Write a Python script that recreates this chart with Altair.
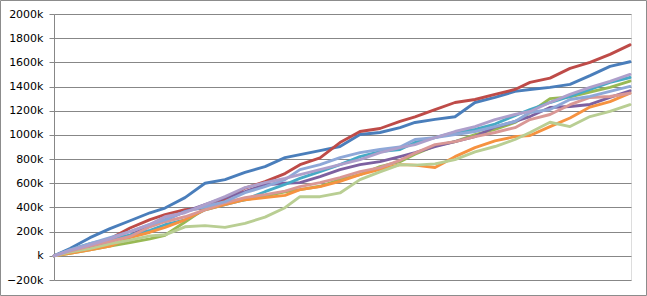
import altair as alt
import pandas as pd

# x positions (steps) shared by all series
x_steps = [0, 16, 36, 56, 76, 96, 111, 131, 151, 171, 191, 211, 231, 246, 266, 286,
           306, 326, 346, 361, 381, 401, 421, 441, 461, 476, 496, 516, 536, 556, 576]

s_blue = [0, 60, 150, 225, 290, 356, 395, 481, 600, 630, 690, 738, 812, 837, 870, 904,
          1003, 1020, 1061, 1103, 1128, 1150, 1268, 1310, 1360, 1376, 1393, 1418, 1490, 1567, 1605]
s_red = [0, 40, 90, 140, 230, 300, 340, 381, 395, 464, 560, 613, 680, 754, 810, 937,
         1028, 1053, 1111, 1150, 1210, 1268, 1293, 1335, 1376, 1434, 1470, 1550, 1600, 1666, 1745]
s_green = [0, 20, 50, 80, 110, 140, 170, 280, 390, 439, 464, 495, 530, 547, 575, 630,
           671, 738, 779, 840, 910, 945, 1003, 1045, 1103, 1185, 1300, 1315, 1355, 1393, 1445]
s_purple = [0, 30, 70, 120, 170, 250, 298, 365, 423, 481, 530, 588, 600, 605, 655, 713,
            754, 779, 821, 854, 904, 945, 986, 1065, 1111, 1152, 1227, 1235, 1252, 1310, 1365]
s_aqua = [0, 50, 100, 140, 170, 210, 257, 298, 381, 423, 464, 530, 590, 640, 696, 754,
          821, 862, 879, 937, 978, 1020, 1045, 1090, 1160, 1210, 1268, 1318, 1376, 1434, 1475]
s_orange = [0, 20, 50, 80, 150, 195, 235, 298, 381, 423, 464, 481, 500, 547, 572, 615,
            671, 715, 754, 750, 730, 820, 895, 950, 986, 995, 1069, 1140, 1230, 1275, 1345]
s_lightgreen = [0, 30, 60, 100, 130, 165, 174, 240, 250, 235, 268, 320, 398, 489, 489, 520,
                630, 695, 754, 750, 760, 796, 860, 904, 962, 1020, 1105, 1069, 1152, 1194, 1250]
s_lavender = [0, 45, 90, 140, 200, 260, 323, 356, 423, 489, 564, 605, 640, 671, 713, 754,
              796, 854, 895, 920, 978, 1028, 1069, 1127, 1169, 1194, 1268, 1335, 1393, 1442, 1500]
s_pink = [0, 40, 80, 120, 160, 240, 282, 323, 381, 439, 481, 506, 535, 572, 605, 647,
          696, 729, 790, 850, 920, 945, 986, 1020, 1060, 1127, 1169, 1250, 1310, 1318, 1345]
s_lightblue = [0, 50, 100, 150, 200, 260, 298, 365, 406, 448, 522, 572, 630, 713, 754, 812,
               854, 879, 900, 962, 978, 1003, 1028, 1069, 1111, 1185, 1210, 1293, 1318, 1360, 1401]

series = [
    ("S1", s_blue, "#4A7EBB"),
    ("S2", s_red, "#BE4B48"),
    ("S3", s_green, "#98B954"),
    ("S4", s_purple, "#7D60A0"),
    ("S5", s_aqua, "#46AAC5"),
    ("S6", s_orange, "#F69240"),
    ("S7", s_lightgreen, "#B9CE93"),
    ("S8", s_pink, "#D99795"),
    ("S9", s_lightblue, "#8EA8D8"),
    ("S10", s_lavender, "#AE9FCB"),
]

rows = []
for order, (name, vals, _c) in enumerate(series):
    for xv, v in zip(x_steps, vals):
        rows.append({"x": xv, "value": v * 1000, "series": name, "o": order})
df = pd.DataFrame(rows)

names = [s[0] for s in series]
colors = [s[2] for s in series]

grid_color = "#878787"

lines = alt.Chart(df).mark_line(strokeWidth=2.9, strokeJoin="round", strokeCap="round", clip=False).encode(
    x=alt.X("x:Q", scale=alt.Scale(domain=[0, 577], nice=False, zero=False), axis=None),
    y=alt.Y("value:Q",
            scale=alt.Scale(domain=[-200000, 2000000], nice=False),
            axis=alt.Axis(values=list(range(-200000, 2000001, 200000)),
                          labelExpr="datum.value == 0 ? 'k' : format(datum.value/1000, 'd') + 'k'",
                          title=None, grid=True, gridColor=grid_color, gridWidth=1,
                          domainColor=grid_color, domainWidth=1,
                          tickColor=grid_color, tickSize=5, tickWidth=1,
                          labelFont="DejaVu Sans", labelFontSize=11, labelColor="#000000",
                          labelPadding=6)),
    color=alt.Color("series:N", scale=alt.Scale(domain=names, range=colors), legend=None),
    order=alt.Order("o:Q"),
    detail="series:N",
)

border = alt.Chart(pd.DataFrame({"a": [0]})).mark_rect(fill=None, stroke="#8c8c8c", strokeWidth=1, clip=False).encode(
    x=alt.value(-53.5), x2=alt.value(592.5), y=alt.value(-13.5), y2=alt.value(281.5)
)

chart = alt.layer(lines, border).properties(
    width=577, height=266,
    padding={"left": 54, "top": 14, "right": 16, "bottom": 16},
    autosize="none",
).configure_view(stroke=None).configure(background="#ffffff")

chart.save("out.html", embed_options={"renderer": "svg", "actions": False})
